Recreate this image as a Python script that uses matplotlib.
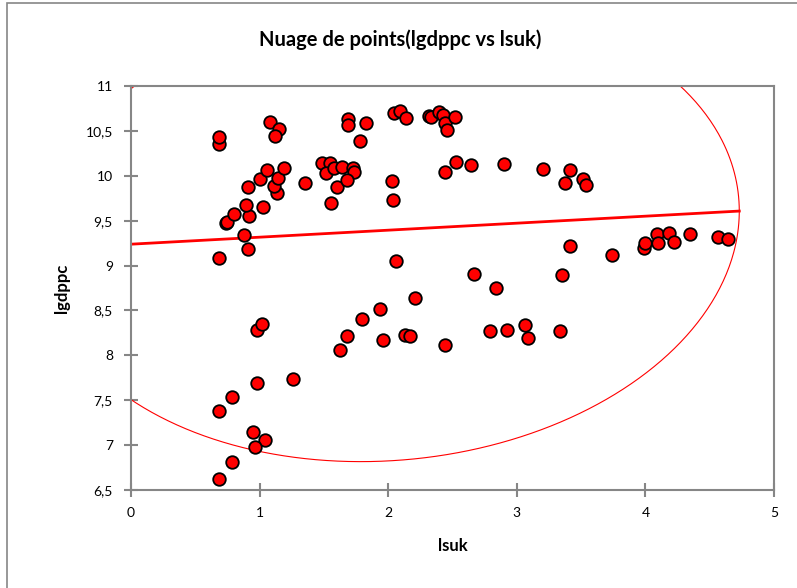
import numpy as np
import matplotlib
matplotlib.use("Agg")
import matplotlib.pyplot as plt
from matplotlib.patches import Rectangle

plt.rcParams['font.family'] = ['Lato', 'DejaVu Sans']

# scatter data
lsuk = [0.686, 0.686, 1.077, 1.150, 1.119, 0.686, 0.912, 0.878, 0.738, 0.748,
        0.800, 0.914, 0.894, 1.023, 1.134, 1.109, 1.142, 0.907, 1.000, 1.057,
        1.186, 1.354, 1.554, 1.489, 1.546, 1.513, 1.575, 1.603, 1.637, 1.727,
        1.733, 1.676, 1.689, 1.689, 1.829, 1.782, 2.043, 2.095, 2.137, 2.315,
        2.330, 2.393, 2.427, 2.442, 2.458, 2.520, 2.033, 2.038, 2.445, 2.525,
        2.644, 2.898, 3.201, 2.064, 2.670, 3.417, 3.375, 3.517, 3.535, 3.417,
        3.740, 3.351, 3.989, 3.994, 4.092, 4.098, 4.186, 4.225, 4.349, 4.561,
        4.644, 0.979, 1.015, 1.624, 0.982, 1.261, 0.782, 0.686, 0.948, 1.041,
        0.966, 0.782, 0.686, 1.681, 1.800, 1.935, 1.958, 2.209, 2.131, 2.170,
        2.445, 2.836, 2.792, 2.926, 3.064, 3.090, 3.336]
lgdppc = [10.358, 10.436, 10.600, 10.520, 10.440, 9.086, 9.180, 9.340, 9.470, 9.480,
          9.570, 9.550, 9.680, 9.650, 9.810, 9.885, 9.970, 9.880, 9.960, 10.060,
          10.090, 9.920, 9.700, 10.146, 10.140, 10.030, 10.090, 9.880, 10.100, 10.090,
          10.040, 9.950, 10.637, 10.566, 10.590, 10.390, 10.700, 10.720, 10.640, 10.670,
          10.660, 10.710, 10.680, 10.590, 10.510, 10.660, 9.940, 9.730, 10.040, 10.155,
          10.120, 10.135, 10.070, 9.056, 8.910, 10.060, 9.920, 9.960, 9.900, 9.220,
          9.120, 8.900, 9.200, 9.250, 9.350, 9.250, 9.360, 9.260, 9.350, 9.320,
          9.300, 8.278, 8.345, 8.060, 7.690, 7.735, 7.538, 7.380, 7.147, 7.058,
          6.980, 6.809, 6.626, 8.210, 8.410, 8.517, 8.170, 8.640, 8.227, 8.210,
          8.118, 8.747, 8.267, 8.278, 8.340, 8.190, 8.270]

# regression line and confidence ellipse
reg_intercept = 9.238
reg_slope = 0.078
ell_cx = 2.01
ell_half_w = 2.72
ell_half_h = 2.57

x_ticks = [0, 1, 2, 3, 4, 5]
y_ticks = [6.5, 7, 7.5, 8, 8.5, 9, 9.5, 10, 10.5, 11]
y_tick_labels = ['6,5', '7', '7,5', '8', '8,5', '9', '9,5', '10', '10,5', '11']

grey = '#868686'
W, H = 797, 588
fig = plt.figure(figsize=(W / 100, H / 100), dpi=100)
ax = fig.add_axes([131 / W, 1 - 490 / H, (774 - 131) / W, (490 - 86) / H])

# outer chart border (cropped on the right and bottom)
fig.patches.append(Rectangle((7 / W, -0.1), 1.2, 1 - 3 / H + 0.1, transform=fig.transFigure,
                             fill=False, edgecolor=grey, linewidth=1.2))

ell_cy = reg_intercept + reg_slope * ell_cx
t = np.linspace(0, 2 * np.pi, 600)
ex = ell_cx + ell_half_w * np.cos(t)
ey = ell_cy + reg_slope * ell_half_w * np.cos(t) + ell_half_h * np.sin(t)
ax.plot(ex, ey, color='red', linewidth=0.8, zorder=2)

lx = np.array([ell_cx - ell_half_w, ell_cx + ell_half_w])
ax.plot(lx, reg_intercept + reg_slope * lx, color='red', linewidth=2.0, zorder=2)

ax.scatter(lsuk, lgdppc, s=82, color='red', edgecolors='black', linewidths=1.3, zorder=3)

ax.set_xlim(0, 5)
ax.set_ylim(6.5, 11)
ax.set_xticks(x_ticks)
ax.set_xticklabels([str(v) for v in x_ticks])
ax.set_yticks(y_ticks)
ax.set_yticklabels(y_tick_labels)
for sp in ax.spines.values():
    sp.set_color(grey)
    sp.set_linewidth(1.5)
ax.tick_params(direction='inout', length=10, width=1.5, color=grey, labelsize=10,
               labelcolor='black')
ax.tick_params(axis='x', pad=7)
ax.tick_params(axis='y', pad=8)

ax.set_xlabel('lsuk', fontsize=12, fontweight='bold', labelpad=14)
ax.set_ylabel('lgdppc', fontsize=12, fontweight='bold', labelpad=11)

fig.text(400 / W, 1 - 40 / H, 'Nuage de points(lgdppc vs lsuk)', ha='center', va='center',
         fontsize=14.5, fontweight='bold')

fig.savefig('out.png', dpi=100)
